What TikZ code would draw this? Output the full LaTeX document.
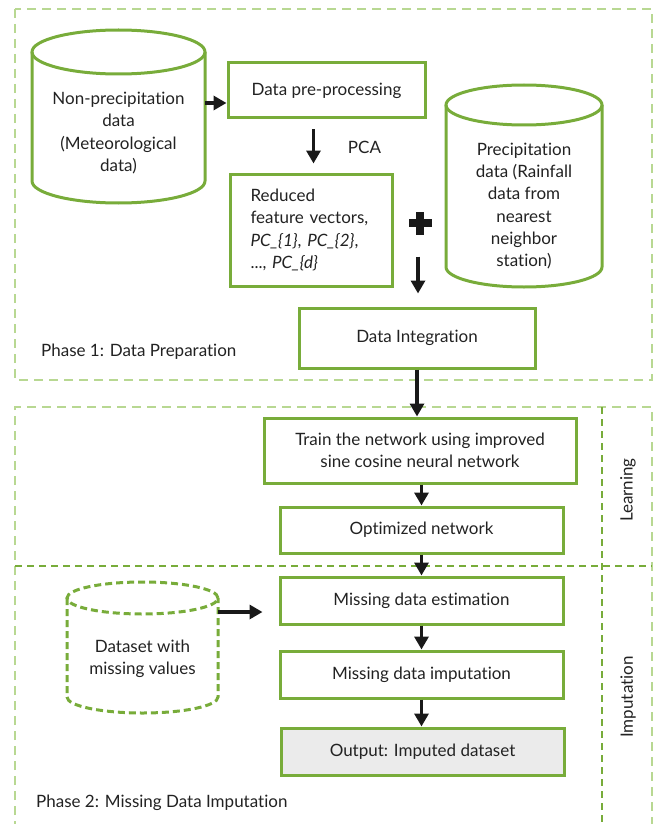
\documentclass[tikz,border=0pt]{standalone}
\usepackage{fontspec}
\setmainfont{Lato}[Ligatures={NoCommon,NoContextual}]
\usetikzlibrary{arrows.meta}
\definecolor{boxgreen}{RGB}{120,172,58}
\definecolor{lightgreen}{RGB}{184,216,146}
\definecolor{txtgray}{RGB}{34,34,34}
\definecolor{outgray}{RGB}{235,235,235}
\newcommand\drawcyl[6]{%
  \draw[#1] (#2,-#3-#6) ellipse[x radius=#5,y radius=#6];
  \draw[#1] (#2-#5,-#3-#6) -- (#2-#5,-#4+#6) arc[start angle=180,end angle=360,x radius=#5,y radius=#6] -- (#2+#5,-#3-#6);
}
\begin{document}
\begin{tikzpicture}[x=1pt,y=1pt,
  every node/.style={font=\fontsize{17}{22.3}\selectfont, text=txtgray},
  box/.style={draw=boxgreen, line width=3pt, align=center, inner sep=0pt},
  cyltxt/.style={align=center, inner sep=0pt},
  arr/.style={line width=3.6pt, draw=black!90, -{Triangle[width=14pt,length=13pt]}},
  phase/.style={draw=lightgreen, line width=2.4pt, dash pattern=on 9pt off 6pt},
  divider/.style={draw=boxgreen, line width=2pt, dash pattern=on 7pt off 5pt},
  cylsolid/.style={draw=boxgreen, line width=3pt},
  cyldash/.style={draw=boxgreen, line width=3pt, dash pattern=on 7pt off 4pt},
]
\useasboundingbox (0,0) rectangle (654,-824);

% phase frames
\draw[phase] (15,-9) rectangle (652,-380);
\draw[phase] (15,-830) -- (15,-407) -- (652,-407) -- (652,-830);
\draw[divider] (602,-407) -- (602,-830);
\draw[divider] (15,-566) -- (652,-566);

% cylinders
\drawcyl{cylsolid}{118.5}{30}{203}{86.5}{22}
\drawcyl{cylsolid}{524}{85}{287}{78}{20}
\drawcyl{cyldash}{142.5}{582}{713}{75.5}{16}

\node[cyltxt, minimum width=173pt, minimum height=120pt] (cylA) at (118.5,-133) {Non-precipitation\\data\\(Meteorological\\data)};
\node[cyltxt, minimum width=156pt, minimum height=150pt] (cylB) at (524,-206) {Precipitation\\data (Rainfall\\data from\\nearest\\neighbor\\station)};
\node[cyltxt, minimum width=151pt, minimum height=80pt] (cylC) at (142.5,-658.5) {Dataset with\\missing values};

% boxes
\node[box, minimum width=197pt, minimum height=55pt] (pre) at (326.5,-90.5) {Data pre-processing};
\node[box, align=left, text width=121pt, inner xsep=20.5pt, minimum height=112pt] (red) at (311,-230)
  {Reduced\\feature vectors,\\\textit{PC\_\{1\}}, \textit{PC\_\{2\}},\\..., \textit{PC\_\{d\}}};
\node[box, minimum width=236pt, minimum height=60pt] (int) at (417,-338) {Data Integration};
\node[box, minimum width=312pt, minimum height=65pt] (train) at (420,-450.5) {Train the network using improved\\sine cosine neural network};
\node[box, minimum width=283pt, minimum height=46pt] (opt) at (421.5,-530) {Optimized network};
\node[box, minimum width=283pt, minimum height=47pt] (est) at (421.5,-600.5) {Missing data estimation};
\node[box, minimum width=283pt, minimum height=47pt] (imp) at (421.5,-674.5) {Missing data imputation};
\node[box, fill=outgray, minimum width=283pt, minimum height=47pt] (out) at (422.5,-751.5) {Output: Imputed dataset};

% labels
\node[inner sep=0pt] (pca) at (364.5,-147) {PCA};
\node[inner sep=0pt, anchor=west] (ph1) at (41,-352) {Phase 1: Data Preparation};
\node[inner sep=0pt, anchor=west] (ph2) at (36,-803) {Phase 2: Missing Data Imputation};
\node[inner sep=0pt, rotate=90] (learn) at (628,-490) {Learning};
\node[inner sep=0pt, rotate=90] (imput) at (628,-697) {Imputation};

% plus sign
\fill[black!90] (408.5,-219) rectangle (431.5,-227);
\fill[black!90] (416,-211.5) rectangle (424,-234.5);

% arrows
\draw[arr] ([yshift=30pt]cylA.east) -- ([yshift=30pt]cylA.east -| pre.west);
\draw[arr, shorten <=10pt, shorten >=9pt] ([xshift=-13pt]pre.south) -- ([xshift=-13pt]pre.south |- red.north);
\draw[arr, shorten >=13pt] ([xshift=1pt,yshift=50pt]int.north) -- ([xshift=1pt]int.north);
\draw[arr] (int.south) -- (int.south |- train.north);
\draw[arr] (opt.north |- train.south) -- (opt.north);
\draw[arr] (opt.south) -- (est.north);
\draw[arr] (est.south) -- (imp.north);
\draw[arr] (imp.south) -- (imp.south |- out.north);
\draw[arr, shorten >=16pt] ([yshift=46.5pt]cylC.east) -- ([yshift=46.5pt]cylC.east -| est.west);
\end{tikzpicture}
\end{document}
